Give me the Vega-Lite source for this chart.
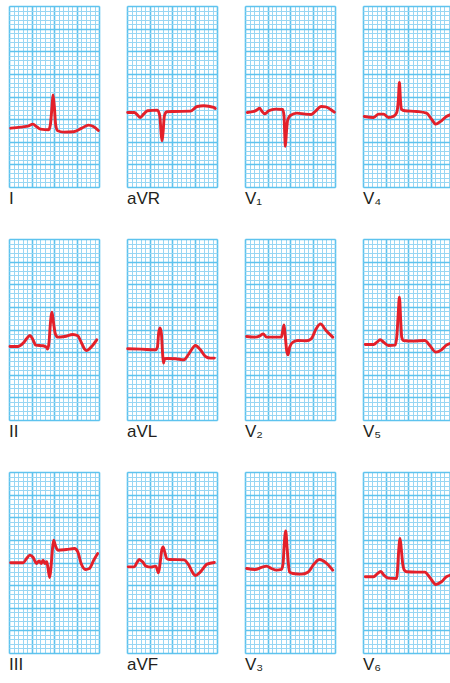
{
  "$schema": "https://vega.github.io/schema/vega-lite/v6.json",
  "padding": {"left": 8, "top": 6, "right": 0, "bottom": 0},
  "background": "white",
  "data": {"values": [
    {"lead":"I","t":0.37,"v":13.0},{"lead":"I","t":2.57,"v":13.24},{"lead":"I","t":4.41,"v":13.53},{"lead":"I","t":5.29,"v":13.9},{"lead":"I","t":6.25,"v":13.24},{"lead":"I","t":6.99,"v":12.79},{"lead":"I","t":8.82,"v":12.65},{"lead":"I","t":9.19,"v":13.75},{"lead":"I","t":9.56,"v":17.79},{"lead":"I","t":9.78,"v":20.37},{"lead":"I","t":10.07,"v":17.79},{"lead":"I","t":10.37,"v":13.75},{"lead":"I","t":10.81,"v":12.43},{"lead":"I","t":12.13,"v":12.13},{"lead":"I","t":14.34,"v":12.21},{"lead":"I","t":16.18,"v":13.01},{"lead":"I","t":17.65,"v":13.68},{"lead":"I","t":18.75,"v":13.38},{"lead":"I","t":19.85,"v":12.5},

    {"lead":"aVR","t":0.15,"v":16.47},{"lead":"aVR","t":1.62,"v":16.47},{"lead":"aVR","t":2.35,"v":15.88},{"lead":"aVR","t":2.94,"v":15.37},{"lead":"aVR","t":3.68,"v":16.1},{"lead":"aVR","t":4.56,"v":16.84},{"lead":"aVR","t":6.76,"v":16.99},{"lead":"aVR","t":7.28,"v":15.74},{"lead":"aVR","t":7.57,"v":12.06},{"lead":"aVR","t":7.79,"v":10.22},{"lead":"aVR","t":8.01,"v":12.06},{"lead":"aVR","t":8.31,"v":15.74},{"lead":"aVR","t":8.82,"v":16.62},{"lead":"aVR","t":10.44,"v":16.69},{"lead":"aVR","t":14.12,"v":16.76},{"lead":"aVR","t":15.59,"v":17.79},{"lead":"aVR","t":17.06,"v":17.94},{"lead":"aVR","t":19.26,"v":17.57},{"lead":"aVR","t":19.63,"v":17.35},

    {"lead":"V₁","t":0.51,"v":16.47},{"lead":"V₁","t":1.99,"v":16.69},{"lead":"V₁","t":2.72,"v":17.06},{"lead":"V₁","t":3.24,"v":17.43},{"lead":"V₁","t":3.68,"v":16.84},{"lead":"V₁","t":4.41,"v":16.18},{"lead":"V₁","t":5.29,"v":16.84},{"lead":"V₁","t":6.76,"v":17.21},{"lead":"V₁","t":8.38,"v":17.13},{"lead":"V₁","t":8.68,"v":15.59},{"lead":"V₁","t":8.82,"v":11.91},{"lead":"V₁","t":8.97,"v":8.97},{"lead":"V₁","t":9.19,"v":11.91},{"lead":"V₁","t":9.49,"v":14.85},{"lead":"V₁","t":10.07,"v":15.81},{"lead":"V₁","t":11.54,"v":16.32},{"lead":"V₁","t":13.38,"v":16.1},{"lead":"V₁","t":14.71,"v":16.03},{"lead":"V₁","t":15.74,"v":16.84},{"lead":"V₁","t":16.91,"v":17.79},{"lead":"V₁","t":17.94,"v":17.72},{"lead":"V₁","t":19.12,"v":17.06},{"lead":"V₁","t":19.85,"v":16.54},

    {"lead":"V₄","t":0.29,"v":15.59},{"lead":"V₄","t":2.35,"v":15.37},{"lead":"V₄","t":3.46,"v":16.1},{"lead":"V₄","t":4.56,"v":16.1},{"lead":"V₄","t":5.66,"v":15.37},{"lead":"V₄","t":6.76,"v":15.59},{"lead":"V₄","t":7.5,"v":16.47},{"lead":"V₄","t":7.87,"v":19.41},{"lead":"V₄","t":8.09,"v":23.09},{"lead":"V₄","t":8.31,"v":19.41},{"lead":"V₄","t":8.53,"v":17.21},{"lead":"V₄","t":9.34,"v":16.84},{"lead":"V₄","t":11.91,"v":16.69},{"lead":"V₄","t":14.12,"v":16.32},{"lead":"V₄","t":15.22,"v":15.0},{"lead":"V₄","t":16.18,"v":13.9},{"lead":"V₄","t":17.43,"v":14.63},{"lead":"V₄","t":18.53,"v":15.59},{"lead":"V₄","t":19.63,"v":16.03},

    {"lead":"II","t":0.22,"v":16.25},{"lead":"II","t":2.06,"v":16.25},{"lead":"II","t":3.16,"v":16.99},{"lead":"II","t":3.9,"v":17.94},{"lead":"II","t":4.63,"v":18.68},{"lead":"II","t":5.22,"v":17.94},{"lead":"II","t":5.96,"v":16.54},{"lead":"II","t":7.57,"v":16.4},{"lead":"II","t":8.31,"v":16.1},{"lead":"II","t":8.6,"v":15.66},{"lead":"II","t":8.9,"v":17.21},{"lead":"II","t":9.19,"v":21.25},{"lead":"II","t":9.56,"v":23.82},{"lead":"II","t":9.93,"v":21.25},{"lead":"II","t":10.29,"v":19.04},{"lead":"II","t":10.88,"v":18.31},{"lead":"II","t":12.35,"v":18.46},{"lead":"II","t":14.19,"v":18.9},{"lead":"II","t":15.29,"v":18.6},{"lead":"II","t":16.03,"v":17.21},{"lead":"II","t":16.76,"v":15.74},{"lead":"II","t":17.28,"v":15.37},{"lead":"II","t":18.24,"v":16.1},{"lead":"II","t":19.49,"v":17.72},

    {"lead":"aVL","t":0.15,"v":15.74},{"lead":"aVL","t":3.09,"v":15.66},{"lead":"aVL","t":6.4,"v":15.51},{"lead":"aVL","t":6.76,"v":16.1},{"lead":"aVL","t":7.06,"v":19.41},{"lead":"aVL","t":7.35,"v":20.37},{"lead":"aVL","t":7.65,"v":19.04},{"lead":"aVL","t":7.87,"v":15.37},{"lead":"aVL","t":8.09,"v":12.57},{"lead":"aVL","t":8.38,"v":13.53},{"lead":"aVL","t":8.97,"v":13.6},{"lead":"aVL","t":10.81,"v":13.53},{"lead":"aVL","t":12.65,"v":13.31},{"lead":"aVL","t":13.75,"v":14.63},{"lead":"aVL","t":15.22,"v":16.47},{"lead":"aVL","t":16.32,"v":15.51},{"lead":"aVL","t":17.43,"v":14.04},{"lead":"aVL","t":18.53,"v":13.68},{"lead":"aVL","t":19.41,"v":13.68},

    {"lead":"V₂","t":0.37,"v":18.46},{"lead":"V₂","t":2.21,"v":18.31},{"lead":"V₂","t":3.31,"v":18.6},{"lead":"V₂","t":4.04,"v":19.04},{"lead":"V₂","t":4.78,"v":18.31},{"lead":"V₂","t":8.09,"v":18.31},{"lead":"V₂","t":8.38,"v":19.78},{"lead":"V₂","t":8.68,"v":21.03},{"lead":"V₂","t":8.97,"v":18.31},{"lead":"V₂","t":9.26,"v":15.37},{"lead":"V₂","t":9.56,"v":14.41},{"lead":"V₂","t":9.93,"v":16.1},{"lead":"V₂","t":10.66,"v":17.21},{"lead":"V₂","t":11.76,"v":17.57},{"lead":"V₂","t":13.6,"v":17.5},{"lead":"V₂","t":14.71,"v":17.94},{"lead":"V₂","t":15.81,"v":20.15},{"lead":"V₂","t":16.76,"v":21.25},{"lead":"V₂","t":18.01,"v":19.78},{"lead":"V₂","t":19.49,"v":18.31},

    {"lead":"V₅","t":0.51,"v":16.69},{"lead":"V₅","t":2.35,"v":16.69},{"lead":"V₅","t":3.09,"v":17.21},{"lead":"V₅","t":3.82,"v":17.72},{"lead":"V₅","t":4.56,"v":17.21},{"lead":"V₅","t":5.66,"v":16.47},{"lead":"V₅","t":7.13,"v":16.54},{"lead":"V₅","t":7.5,"v":18.31},{"lead":"V₅","t":7.79,"v":22.72},{"lead":"V₅","t":8.09,"v":27.13},{"lead":"V₅","t":8.38,"v":21.99},{"lead":"V₅","t":8.6,"v":18.31},{"lead":"V₅","t":8.97,"v":17.57},{"lead":"V₅","t":11.18,"v":17.43},{"lead":"V₅","t":13.75,"v":17.57},{"lead":"V₅","t":14.85,"v":16.47},{"lead":"V₅","t":16.18,"v":15.0},{"lead":"V₅","t":17.43,"v":15.51},{"lead":"V₅","t":18.53,"v":16.54},{"lead":"V₅","t":19.63,"v":16.99},

    {"lead":"III","t":0.37,"v":19.93},{"lead":"III","t":3.16,"v":19.93},{"lead":"III","t":3.9,"v":20.88},{"lead":"III","t":4.63,"v":21.62},{"lead":"III","t":5.37,"v":21.1},{"lead":"III","t":6.1,"v":19.78},{"lead":"III","t":6.69,"v":20.37},{"lead":"III","t":7.13,"v":19.78},{"lead":"III","t":7.57,"v":20.51},{"lead":"III","t":8.01,"v":19.78},{"lead":"III","t":8.38,"v":20.15},{"lead":"III","t":8.68,"v":18.68},{"lead":"III","t":9.04,"v":16.69},{"lead":"III","t":9.34,"v":19.04},{"lead":"III","t":9.63,"v":22.72},{"lead":"III","t":9.93,"v":24.93},{"lead":"III","t":10.29,"v":23.82},{"lead":"III","t":10.88,"v":22.72},{"lead":"III","t":12.72,"v":22.87},{"lead":"III","t":14.56,"v":23.09},{"lead":"III","t":15.29,"v":22.35},{"lead":"III","t":16.03,"v":19.78},{"lead":"III","t":16.99,"v":18.46},{"lead":"III","t":17.87,"v":18.68},{"lead":"III","t":18.82,"v":20.51},{"lead":"III","t":19.71,"v":21.99},

    {"lead":"aVF","t":0.29,"v":19.04},{"lead":"aVF","t":1.62,"v":19.04},{"lead":"aVF","t":2.21,"v":20.0},{"lead":"aVF","t":2.72,"v":20.66},{"lead":"aVF","t":3.46,"v":20.15},{"lead":"aVF","t":4.19,"v":19.19},{"lead":"aVF","t":5.29,"v":18.97},{"lead":"aVF","t":6.4,"v":19.19},{"lead":"aVF","t":6.76,"v":18.31},{"lead":"aVF","t":6.99,"v":17.72},{"lead":"aVF","t":7.35,"v":19.78},{"lead":"aVF","t":7.72,"v":22.72},{"lead":"aVF","t":8.01,"v":23.46},{"lead":"aVF","t":8.38,"v":22.35},{"lead":"aVF","t":8.82,"v":20.88},{"lead":"aVF","t":9.34,"v":20.66},{"lead":"aVF","t":12.65,"v":20.59},{"lead":"aVF","t":13.75,"v":19.41},{"lead":"aVF","t":14.49,"v":17.94},{"lead":"aVF","t":15.22,"v":17.13},{"lead":"aVF","t":16.32,"v":17.94},{"lead":"aVF","t":17.79,"v":19.63},{"lead":"aVF","t":19.41,"v":20.0},

    {"lead":"V₃","t":0.37,"v":18.68},{"lead":"V₃","t":2.21,"v":18.46},{"lead":"V₃","t":3.68,"v":18.9},{"lead":"V₃","t":4.78,"v":19.19},{"lead":"V₃","t":5.88,"v":18.68},{"lead":"V₃","t":6.99,"v":18.31},{"lead":"V₃","t":8.09,"v":18.46},{"lead":"V₃","t":8.46,"v":19.78},{"lead":"V₃","t":8.68,"v":23.46},{"lead":"V₃","t":9.04,"v":26.99},{"lead":"V₃","t":9.34,"v":23.46},{"lead":"V₃","t":9.63,"v":19.78},{"lead":"V₃","t":9.93,"v":17.87},{"lead":"V₃","t":10.66,"v":17.57},{"lead":"V₃","t":12.5,"v":17.43},{"lead":"V₃","t":13.97,"v":17.87},{"lead":"V₃","t":15.44,"v":19.78},{"lead":"V₃","t":16.54,"v":20.66},{"lead":"V₃","t":18.01,"v":19.93},{"lead":"V₃","t":19.49,"v":18.31},

    {"lead":"V₆","t":0.51,"v":16.84},{"lead":"V₆","t":2.35,"v":16.84},{"lead":"V₆","t":3.09,"v":17.43},{"lead":"V₆","t":3.97,"v":18.01},{"lead":"V₆","t":4.56,"v":17.28},{"lead":"V₆","t":5.66,"v":16.54},{"lead":"V₆","t":7.5,"v":16.47},{"lead":"V₆","t":7.72,"v":19.04},{"lead":"V₆","t":7.94,"v":22.72},{"lead":"V₆","t":8.24,"v":25.29},{"lead":"V₆","t":8.53,"v":22.72},{"lead":"V₆","t":8.82,"v":19.78},{"lead":"V₆","t":9.19,"v":18.31},{"lead":"V₆","t":9.71,"v":17.94},{"lead":"V₆","t":11.91,"v":17.87},{"lead":"V₆","t":13.75,"v":17.87},{"lead":"V₆","t":14.85,"v":16.69},{"lead":"V₆","t":16.18,"v":15.15},{"lead":"V₆","t":17.43,"v":15.74},{"lead":"V₆","t":18.53,"v":16.84},{"lead":"V₆","t":19.63,"v":17.28}
  ]},
  "facet": {
    "field": "lead",
    "type": "nominal",
    "sort": ["I","aVR","V₁","V₄","II","aVL","V₂","V₅","III","aVF","V₃","V₆"],
    "header": {
      "title": null,
      "labelOrient": "bottom",
      "labelAnchor": "start",
      "labelAlign": "left",
      "labelBaseline": "top",
      "labelFont": "Liberation Sans",
      "labelFontSize": 17,
      "labelColor": "#231f20",
      "labelPadding": 4
    }
  },
  "columns": 4,
  "spacing": {"row": 32, "column": 26},
  "spec": {
    "width": 90,
    "height": 181,
    "layer": [
      {
        "mark": {"type": "line", "opacity": 0},
        "encoding": {
          "x": {"field": "t", "type": "quantitative",
            "scale": {"domain": [0, 20], "nice": false, "zero": false},
            "axis": {"values": [0,1,2,3,4,5,6,7,8,9,10,11,12,13,14,15,16,17,18,19,20], "grid": true, "gridColor": "#98d6f3", "gridWidth": 1, "gridOpacity": 1, "labels": false, "ticks": false, "domain": false, "title": null, "minExtent": 0, "maxExtent": 0}},
          "y": {"field": "v", "type": "quantitative",
            "scale": {"domain": [0, 40], "nice": false, "zero": false},
            "axis": {"values": [0,1,2,3,4,5,6,7,8,9,10,11,12,13,14,15,16,17,18,19,20,21,22,23,24,25,26,27,28,29,30,31,32,33,34,35,36,37,38,39,40], "grid": true, "gridColor": "#98d6f3", "gridWidth": 1, "gridOpacity": 1, "labels": false, "ticks": false, "domain": false, "title": null, "minExtent": 0, "maxExtent": 0}}
        }
      },
      {
        "mark": {"type": "line", "color": "#e3202a", "strokeWidth": 2.9, "interpolate": "monotone", "strokeCap": "round", "strokeJoin": "round"},
        "encoding": {
          "x": {"field": "t", "type": "quantitative",
            "scale": {"domain": [0, 20], "nice": false, "zero": false},
            "axis": {"values": [0,5,10,15,20], "grid": true, "gridColor": "#5ec3ee", "gridWidth": 1.6, "gridOpacity": 1, "labels": false, "ticks": false, "domain": false, "title": null, "minExtent": 0, "maxExtent": 0}},
          "y": {"field": "v", "type": "quantitative",
            "scale": {"domain": [0, 40], "nice": false, "zero": false},
            "axis": {"values": [0,5,10,15,20,25,30,35,40], "grid": true, "gridColor": "#5ec3ee", "gridWidth": 1.6, "gridOpacity": 1, "labels": false, "ticks": false, "domain": false, "title": null, "minExtent": 0, "maxExtent": 0}}
        }
      }
    ],
    "resolve": {"axis": {"x": "independent", "y": "independent"}}
  },
  "config": {"view": {"stroke": null}}
}
